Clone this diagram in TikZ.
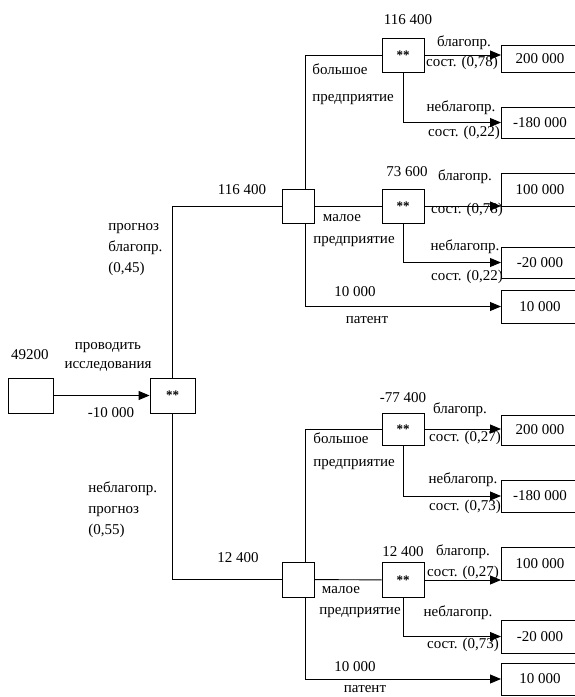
\documentclass[tikz,border=0pt]{standalone}
\usepackage{fontspec}
\setmainfont{Liberation Serif}
\usetikzlibrary{arrows.meta}
\usetikzlibrary{positioning}

\begin{document}
\begin{tikzpicture}[x=1pt,y=-1pt,>={Triangle[length=11pt,width=9pt]},line width=0.9pt,
    square node/.style={rectangle,draw,fill=white,inner sep=0pt},
    dec node/.style={square node,minimum width=32pt,minimum height=34pt},
    chance node/.style={square node,minimum width=42pt,minimum height=34pt,font=\fontsize{13}{13}\bfseries},
    end node/.style={square node,anchor=west,minimum width=77pt,font=\fontsize{15}{16}\selectfont},
    txt/.style={inner sep=0pt,font=\fontsize{15}{21}\selectfont,align=left}]
  \useasboundingbox (0,0) rectangle (574,697);
  % first decision
  \node[dec node,minimum width=45pt,minimum height=35pt] (d0) at (30.5,395.5) {};
  \node[chance node,minimum width=45pt,minimum height=35pt] (c0) at (172.5,395.5) {**};
  \node[dec node] (d1) at (298.5,206) {};
  \node[dec node,minimum height=35pt] (d2) at (298.5,579.5) {};
  % chance nodes
  \node[chance node] (cA) at (403,55) {**};
  \node[chance node] (cB) at (403,206) {**};
  \node[chance node,minimum height=32pt] (cC) at (403,429) {**};
  \node[chance node,minimum height=35pt] (cD) at (403,580) {**};
  % outcomes
  \node[end node,minimum height=27pt] (rA1) at (501,58.5) {200 000};
  \node[end node,minimum height=31pt] (rA2) at (501,122.5) {-180 000};
  \node[end node,minimum height=33pt] (rB1) at (501,189.5) {100 000};
  \node[end node,minimum height=31pt] (rB2) at (501,262.5) {-20 000};
  \node[end node,minimum height=33pt] (rB3) at (501,306.5) {10 000};
  \node[end node,minimum height=30pt] (rC1) at (501,430) {200 000};
  \node[end node,minimum height=32pt] (rC2) at (501,496) {-180 000};
  \node[end node,minimum height=33pt] (rD1) at (501,563.5) {100 000};
  \node[end node,minimum height=33pt] (rD2) at (501,636.5) {-20 000};
  \node[end node,minimum height=32pt] (rD3) at (501,679) {10 000};

  \path[->] (d0) edge (c0);
  \draw (c0.north) |- (d1.west);
  \draw (c0.south) |- (d2.west);
  \draw ([xshift=6.5pt]d1.north) |- (cA.west);
  \path (d1) edge (cB);
  \draw[->] ([xshift=6.5pt]d1.south) |- (rB3.west);
  \draw ([xshift=6.5pt]d2.north) |- (cC.west);
  \path (d2) edge (cD);
  \draw[->] ([xshift=6.5pt]d2.south) |- (rD3.west);
  \draw[->] (cA) -- (cA -| rA1.west);
  \draw[->] (cA.south) |- (rA2.west);
  \draw[->] (cB) -- (cB -| rB1.west);
  \draw[->] (cB.south) |- (rB2.west);
  \draw[->] (cC) -- (cC -| rC1.west);
  \draw[->] (cC.south) |- (rC2.west);
  \draw[->] (cD) -- (cD -| rD1.west);
  \draw[->] (cD.south) |- (rD2.west);

  % labels
  \node[txt] (v0) at (30,355) {49200};
  \node[txt,align=center,font=\fontsize{15}{19}\selectfont] (l0) at (108,357) {проводить\\исследования};
  \node[txt] (k0) at (111,413) {-10 000};
  \node[txt,anchor=west] (p1) at (108,250) {прогноз\\благопр.\\(0,45)};
  \node[txt,anchor=west] (p2) at (88,510) {неблагопр.\\прогноз\\(0,55)};
  \node[txt] (v1) at (242,190) {116 400};
  \node[txt] (v2) at (238,558) {12 400};

  \node[txt] (vA) at (408,20) {116 400};
  \node[txt] (gA) at (464,43) {благопр.};
  \node[txt] (sA) at (462,63) {сост. (0,78)};
  \node[txt] (nA) at (461,108) {неблагопр.};
  \node[txt] (tA) at (464,133) {сост. (0,22)};
  \node[txt,anchor=west,font=\fontsize{15}{27}\selectfont] (bA) at (312,84) {большое\\предприятие};

  \node[txt] (vB) at (407,172) {73 600};
  \node[txt] (gB) at (465,177) {благопр.};
  \node[txt] (sB) at (467,210) {сост. (0,78)};
  \node[txt] (nB) at (465,247) {неблагопр.};
  \node[txt] (tB) at (467,277) {сост. (0,22)};
  \node[txt] (mB1) at (342,218) {малое};
  \node[txt] (mB2) at (354,242) {предприятие};
  \node[txt] (pB1) at (355,292) {10 000};
  \node[txt] (pB2) at (367,320) {патент};

  \node[txt] (vC) at (403,398) {-77 400};
  \node[txt] (gC) at (460,410) {благопр.};
  \node[txt] (sC) at (465,438) {сост. (0,27)};
  \node[txt] (nC) at (463,480) {неблагопр.};
  \node[txt] (tC) at (465,507) {сост. (0,73)};
  \node[txt,anchor=west,font=\fontsize{15}{23}\selectfont] (bC) at (313,451) {большое\\предприятие};

  \node[txt] (vD) at (403,552) {12 400};
  \node[txt] (gD) at (463,552) {благопр.};
  \node[txt] (sD) at (463,573) {сост. (0,27)};
  \node[txt] (nD) at (458,613) {неблагопр.};
  \node[txt] (tD) at (463,645) {сост. (0,73)};
  \node[txt] (mD1) at (341,590) {малое};
  \node[txt] (mD2) at (360,613) {предприятие};
  \node[txt] (pD1) at (355,667) {10 000};
  \node[txt] (pD2) at (365,689) {патент};
\end{tikzpicture}
\end{document}
